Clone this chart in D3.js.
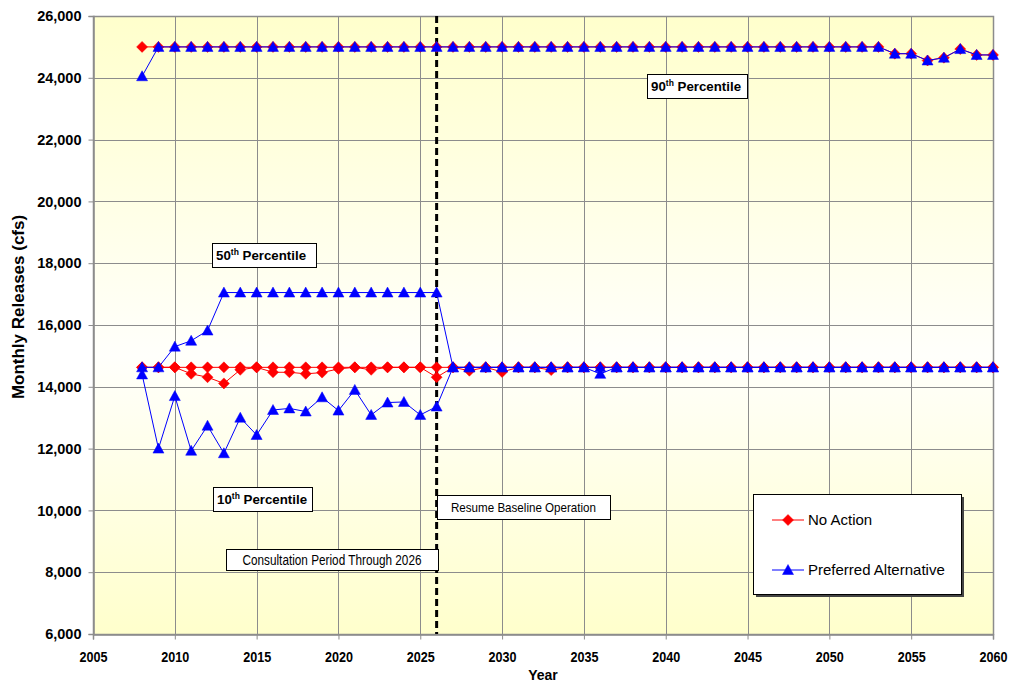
<!DOCTYPE html>
<html>
<head>
<meta charset="utf-8">
<script src="https://cdn.jsdelivr.net/npm/d3@7"></script>
<style>
  html, body { margin: 0; padding: 0; background: #ffffff; }
  svg { display: block; }
  .tick text { font-family: Arial, "Liberation Sans", sans-serif; font-weight: bold; fill: #000; }
</style>
</head>
<body>
<svg id="chart" width="1013" height="683"></svg>
<script>
// ---------------- DATA ----------------
const years = [2008,2009,2010,2011,2012,2013,2014,2015,2016,2017,2018,2019,2020,2021,2022,2023,2024,2025,2026,
  2027,2028,2029,2030,2031,2032,2033,2034,2035,2036,2037,2038,2039,2040,2041,2042,2043,2044,2045,2046,2047,2048,2049,2050,2051,2052,2053,2054,2055,2056,2057,2058,2059,2060];

// No Action
const noAction90 = [25000,25000,25000,25000,25000,25000,25000,25000,25000,25000,25000,25000,25000,25000,25000,25000,25000,25000,25000,
  25000,25000,25000,25000,25000,25000,25000,25000,25000,25000,25000,25000,25000,25000,25000,25000,25000,25000,25000,25000,25000,25000,25000,25000,25000,25000,25000,24780,24780,24560,24650,24930,24740,24740];
const noAction50 = [14630,14630,14630,14630,14630,14630,14630,14630,14630,14630,14630,14630,14630,14630,14630,14630,14630,14630,14630,
  14630,14630,14630,14630,14630,14630,14630,14630,14630,14630,14630,14630,14630,14630,14630,14630,14630,14630,14630,14630,14630,14630,14630,14630,14630,14630,14630,14630,14630,14630,14630,14630,14630,14630];
const noAction10 = [14630,14630,14630,14420,14310,14110,14550,14630,14470,14470,14420,14460,14580,14630,14550,14630,14630,14630,14310,
  14630,14520,14630,14480,14630,14630,14540,14630,14630,14630,14630,14630,14630,14630,14630,14630,14630,14630,14630,14630,14630,14630,14630,14630,14630,14630,14630,14630,14630,14630,14630,14630,14630,14630];

// Preferred Alternative
const pref90 = [24050,25000,25000,25000,25000,25000,25000,25000,25000,25000,25000,25000,25000,25000,25000,25000,25000,25000,25000,
  25000,25000,25000,25000,25000,25000,25000,25000,25000,25000,25000,25000,25000,25000,25000,25000,25000,25000,25000,25000,25000,25000,25000,25000,25000,25000,25000,24780,24780,24560,24650,24930,24740,24740];
const pref50 = [14630,14630,15300,15490,15820,17050,17050,17050,17050,17050,17050,17050,17050,17050,17050,17050,17050,17050,17050,
  14630,14630,14630,14630,14630,14630,14630,14630,14630,14630,14630,14630,14630,14630,14630,14630,14630,14630,14630,14630,14630,14630,14630,14630,14630,14630,14630,14630,14630,14630,14630,14630,14630,14630];
const pref10 = [14400,12000,13700,11930,12740,11850,13000,12440,13250,13300,13200,13660,13230,13900,13090,13490,13510,13090,13360,
  14630,14630,14630,14630,14630,14630,14630,14630,14630,14420,14630,14630,14630,14630,14630,14630,14630,14630,14630,14630,14630,14630,14630,14630,14630,14630,14630,14630,14630,14630,14630,14630,14630,14630];

const xTicks = [2005,2010,2015,2020,2025,2030,2035,2040,2045,2050,2055,2060];
const yTicks = [6000,8000,10000,12000,14000,16000,18000,20000,22000,24000,26000];
const consultationEnd = 2026;

const seriesNames = ["No Action", "Preferred Alternative"];
const seriesColors = ["#FF0000", "#0000FF"];

// ---------------- CHART ----------------
const svg = d3.select("#chart");
const plot = { left: 93, top: 16, right: 993, bottom: 634 };

const x = d3.scaleLinear().domain([2005, 2060]).range([plot.left, plot.right]);
const y = d3.scaleLinear().domain([6000, 26000]).range([plot.bottom, plot.top]);

const boldFont = "Arial, 'Liberation Sans', sans-serif";

// gradient background
const defs = svg.append("defs");
const grad = defs.append("linearGradient").attr("id", "bg").attr("x1", 0).attr("y1", 0).attr("x2", 0).attr("y2", 1);
grad.append("stop").attr("offset", "0%").attr("stop-color", "#FFFFCC");
grad.append("stop").attr("offset", "55%").attr("stop-color", "#FFFFFB");
grad.append("stop").attr("offset", "100%").attr("stop-color", "#FFFFCC");

svg.append("rect")
  .attr("x", plot.left).attr("y", plot.top)
  .attr("width", plot.right - plot.left).attr("height", plot.bottom - plot.top)
  .attr("fill", "url(#bg)");

// gridlines
const grid = svg.append("g");
grid.selectAll("line.h").data(yTicks).enter().append("line")
  .attr("x1", plot.left).attr("x2", plot.right)
  .attr("y1", d => Math.round(y(d)) + 0.5).attr("y2", d => Math.round(y(d)) + 0.5)
  .attr("stroke", "#8c8c8c").attr("stroke-width", 1);
grid.selectAll("line.v").data(xTicks).enter().append("line")
  .attr("y1", plot.top).attr("y2", plot.bottom)
  .attr("x1", d => Math.round(x(d)) + 0.5).attr("x2", d => Math.round(x(d)) + 0.5)
  .attr("stroke", "#8c8c8c").attr("stroke-width", 1);

// plot border
svg.append("rect")
  .attr("x", plot.left + 0.5).attr("y", plot.top + 0.5)
  .attr("width", plot.right - plot.left).attr("height", plot.bottom - plot.top)
  .attr("fill", "none").attr("stroke", "#8c8c8c").attr("stroke-width", 1.5);

// axes
const yAxis = d3.axisLeft(y).tickValues(yTicks).tickSize(5).tickPadding(7).tickFormat(d3.format(","));
const xAxis = d3.axisBottom(x).tickValues(xTicks).tickSize(5).tickPadding(11).tickFormat(d3.format("d"));
const gy = svg.append("g").attr("transform", `translate(${plot.left + 0.5},0)`).call(yAxis);
const gx = svg.append("g").attr("transform", `translate(0,${plot.bottom + 0.5})`).call(xAxis);
[gy, gx].forEach(g => {
  g.select(".domain").attr("stroke", "#8c8c8c").attr("stroke-width", 1.5);
  g.selectAll(".tick line").attr("stroke", "#8c8c8c");
});
gy.selectAll(".tick text").style("font-size", "14.5px");
gx.selectAll(".tick text").style("font-size", "15.5px")
  .attr("textLength", 28).attr("lengthAdjust", "spacingAndGlyphs");

// axis titles
svg.append("text")
  .attr("x", 543).attr("y", 680)
  .attr("text-anchor", "middle")
  .style("font-family", boldFont).style("font-weight", "bold").style("font-size", "14px")
  .text("Year");
svg.append("text")
  .attr("transform", "translate(24,307) rotate(-90)")
  .attr("text-anchor", "middle")
  .style("font-family", boldFont).style("font-weight", "bold").style("font-size", "17px")
  .text("Monthly Releases (cfs)");

// dashed vertical line at end of consultation period
svg.append("line")
  .attr("x1", x(consultationEnd)).attr("x2", x(consultationEnd))
  .attr("y1", plot.top).attr("y2", plot.bottom)
  .attr("stroke", "#000").attr("stroke-width", 3).attr("stroke-dasharray", "7,4");

// series drawing
const line = d3.line().x(d => x(d[0])).y(d => y(d[1]));
const diamond = "M0,-5.5L5.5,0L0,5.5L-5.5,0Z";
const triangle = "M0,-5.5L5.5,4.5L-5.5,4.5Z";

function drawSeries(values, color, marker) {
  const pts = years.map((yr, i) => [yr, values[i]]);
  svg.append("path").datum(pts)
    .attr("d", line).attr("fill", "none").attr("stroke", color).attr("stroke-width", 1);
  svg.append("g").selectAll("path").data(pts).enter().append("path")
    .attr("d", marker)
    .attr("transform", d => `translate(${x(d[0])},${y(d[1])})`)
    .attr("fill", color).attr("stroke", color).attr("stroke-width", 0.5);
}

[noAction90, noAction50, noAction10].forEach(v => drawSeries(v, seriesColors[0], diamond));
[pref90, pref50, pref10].forEach(v => drawSeries(v, seriesColors[1], triangle));

// annotation boxes
function percentileBox(bx, by, bw, bh, num) {
  svg.append("rect").attr("x", bx + 0.5).attr("y", by + 0.5).attr("width", bw).attr("height", bh)
    .attr("fill", "#fff").attr("stroke", "#000").attr("stroke-width", 1);
  const t = svg.append("text").attr("x", bx + 4).attr("y", by + bh - 7)
    .style("font-family", boldFont).style("font-weight", "bold").style("font-size", "13.3px");
  t.append("tspan").text(num);
  t.append("tspan").attr("dy", -5).style("font-size", "8.5px").text("th");
  t.append("tspan").attr("dy", 5).text(" Percentile");
}
percentileBox(647, 74, 100, 24, "90");
percentileBox(212, 243, 104, 24, "50");
percentileBox(213, 487, 99, 24, "10");

function noteBox(bx, by, bw, bh, txt, size, len) {
  svg.append("rect").attr("x", bx + 0.5).attr("y", by + 0.5).attr("width", bw).attr("height", bh)
    .attr("fill", "#fff").attr("stroke", "#000").attr("stroke-width", 1);
  svg.append("text").attr("x", bx + bw / 2).attr("y", by + bh / 2 + 5)
    .attr("text-anchor", "middle")
    .attr("textLength", len).attr("lengthAdjust", "spacingAndGlyphs")
    .style("font-family", boldFont).style("font-size", size + "px")
    .text(txt);
}
noteBox(226, 549, 212, 21, "Consultation Period Through 2026", 14, 179);
noteBox(437, 495, 173, 24, "Resume Baseline Operation", 13, 145);

// legend
const lg = { x: 753, y: 494, w: 208, h: 100 };
svg.append("rect").attr("x", lg.x + 3).attr("y", lg.y + 3).attr("width", lg.w).attr("height", lg.h).attr("fill", "#444");
svg.append("rect").attr("x", lg.x + 0.5).attr("y", lg.y + 0.5).attr("width", lg.w).attr("height", lg.h)
  .attr("fill", "#fff").attr("stroke", "#000").attr("stroke-width", 1);
const legendRows = [
  { name: seriesNames[0], color: seriesColors[0], marker: diamond, y: 520 },
  { name: seriesNames[1], color: seriesColors[1], marker: triangle, y: 570 }
];
legendRows.forEach(r => {
  svg.append("line").attr("x1", 772).attr("x2", 804).attr("y1", r.y).attr("y2", r.y)
    .attr("stroke", r.color).attr("stroke-width", 1);
  svg.append("path").attr("d", r.marker).attr("transform", `translate(788,${r.y})`)
    .attr("fill", r.color).attr("stroke", r.color).attr("stroke-width", 0.5);
  svg.append("text").attr("x", 808).attr("y", r.y + 5)
    .style("font-family", boldFont).style("font-size", "15px").text(r.name);
});
</script>
</body>
</html>
